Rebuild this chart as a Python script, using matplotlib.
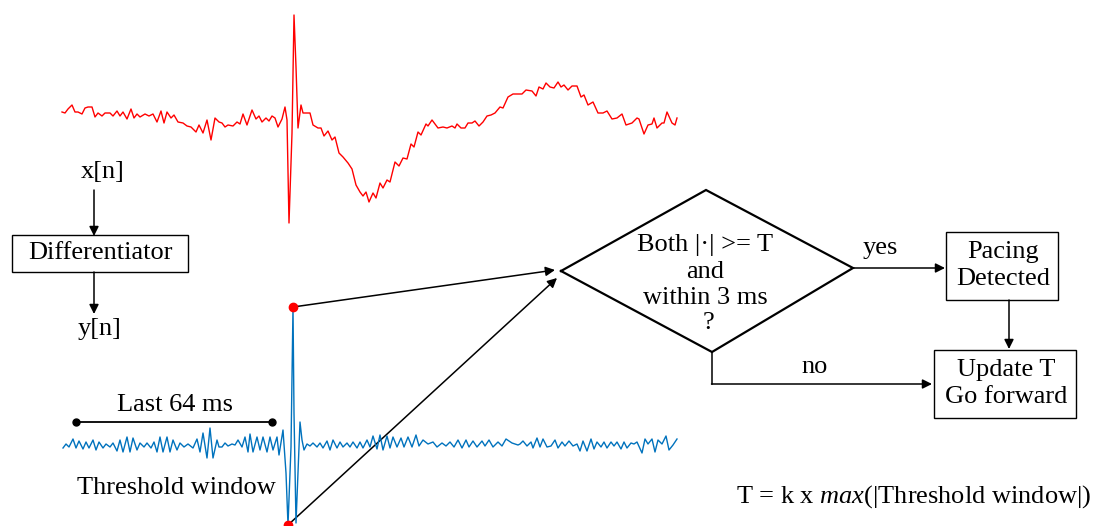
import matplotlib.pyplot as plt

plt.rcParams['font.family'] = ['Liberation Serif', 'DejaVu Serif']
plt.rcParams['mathtext.fontset'] = 'custom'
plt.rcParams['mathtext.rm'] = 'Liberation Serif'
plt.rcParams['mathtext.it'] = 'Liberation Serif:italic'

# raw ECG x[n]: sample index and amplitude
x_t = [0, 3, 6, 10, 13, 16, 20, 23, 26, 30, 33, 36, 40, 43, 48, 51, 55, 58, 61, 65,
       69, 72, 75, 78, 83, 87, 91, 95, 99, 102, 105, 109, 112, 116, 121, 125, 129, 134, 137, 141,
       145, 149, 153, 157, 160, 163, 166, 171, 175, 178, 181, 185, 190, 194, 197, 200, 204, 207, 210, 213,
       216, 220, 223, 225, 227, 230, 232, 234, 236, 239, 241, 248, 251, 256, 259, 262, 266, 270, 273, 277,
       281, 286, 290, 294, 298, 301, 304, 307, 311, 314, 318, 321, 325, 328, 333, 337, 341, 345, 349, 352,
       356, 359, 364, 366, 370, 376, 381, 385, 390, 393, 395, 399, 403, 406, 410, 413, 417, 421, 425, 429,
       433, 438, 441, 446, 451, 460, 464, 470, 474, 477, 481, 484, 488, 492, 496, 499, 502, 506, 510, 515,
       519, 522, 526, 531, 536, 541, 545, 550, 555, 560, 564, 570, 575, 577, 582, 586, 590, 592, 595, 600,
       602, 605, 610, 613, 615]
x_v = [-2, -3, 1, 5, -2, -2, -4, 2, 3, 3, -7, -3, -6, -3, -3, -6, -1, -6, -2, -9,
       1, -8, -4, -7, -4, -6, -4, -12, -1, -13, -2, -8, -5, -12, -13, -16, -17, -22, -15, -23,
       -10, -30, -8, -12, -13, -17, -15, -16, -12, -14, -4, -15, 0, -9, -6, -12, -8, -11, -6, -8,
       -17, -9, 3, -10, -113, -23, 95, 43, -18, 5, -3, -3, -15, -18, -18, -26, -21, -30, -27, -43,
       -47, -53, -59, -75, -82, -86, -82, -92, -83, -88, -73, -78, -70, -72, -52, -56, -48, -49, -34, -37,
       -22, -25, -14, -16, -10, -18, -17, -18, -16, -18, -14, -18, -18, -13, -13, -11, -16, -12, -6, -5,
       -3, 3, 2, 13, 16, 16, 20, 19, 14, 23, 21, 27, 23, 22, 28, 23, 25, 20, 24, 24,
       13, 15, 5, 8, -3, -3, -1, -9, -8, -4, -15, -13, -8, -9, -24, -15, -14, -8, -18, -13,
       -13, -2, -13, -15, -8]

# differentiated y[n]
y_t = [1, 4, 7, 11, 14, 17, 21, 24, 27, 31, 34, 37, 41, 44, 48, 51, 55, 58, 61, 65,
       68, 71, 75, 78, 82, 85, 89, 92, 95, 98, 101, 105, 108, 111, 115, 118, 122, 126, 131, 135,
       138, 141, 145, 148, 151, 155, 157, 160, 163, 166, 170, 173, 176, 180, 183, 186, 188, 191, 195, 198,
       201, 205, 208, 211, 215, 217, 221, 224, 226, 229, 231, 232, 234, 236, 238, 240, 242, 245, 248, 251,
       255, 258, 261, 265, 268, 271, 275, 278, 281, 285, 288, 291, 295, 298, 301, 305, 308, 311, 315, 318,
       321, 325, 328, 331, 335, 339, 342, 346, 350, 354, 357, 361, 366, 371, 375, 380, 384, 388, 392, 396,
       400, 404, 407, 411, 415, 420, 423, 427, 431, 436, 440, 444, 450, 456, 458, 461, 465, 469, 471, 475,
       478, 481, 485, 489, 493, 496, 500, 503, 507, 511, 515, 518, 521, 525, 529, 532, 535, 539, 542, 545,
       549, 552, 555, 559, 562, 565, 569, 572, 575, 580, 583, 586, 590, 593, 596, 600, 604, 607, 611, 615]
y_v = [-4, 0, -3, 5, -4, 3, -5, 2, -4, 4, -6, 2, -4, 0, -3, 1, -7, 4, -8, 7,
       -8, 6, -6, 1, -3, 1, -4, 2, -8, 7, -8, 7, -8, 4, -6, 1, -3, 0, -4, 5,
       -8, 11, -14, 16, -14, 4, -3, -3, 1, -2, 0, -1, 4, -3, 7, -8, 10, -8, 7, -6,
       7, -8, 7, -6, 7, -11, 14, -29, -81, -3, 137, 31, -79, -29, 22, 4, -6, 0, -2, 1,
       -3, 1, -4, 3, -6, 4, -4, 2, -3, 1, -3, 2, -4, 2, -4, 4, -3, 8, -5, 9,
       -6, 8, -4, 7, -3, 6, -3, 7, -3, 9, -2, 4, 0, 2, -3, 1, -2, 2, -3, 4,
       -4, 4, -3, 3, -3, 3, -2, 4, -3, 2, -2, 5, 1, -1, 0, 3, -2, 2, -4, 6,
       -3, 5, -3, -2, 4, -4, 2, -2, 3, -2, 0, -7, 3, -7, 5, -5, 2, -3, 2, -4,
       2, -2, 2, -5, 2, -4, 1, 0, 2, -9, 5, 0, 5, -8, 4, 0, 8, -6, -1, 5]

window = [14, 210]   # last 64 ms, in samples

W, H = 1094, 526
fig = plt.figure(figsize=(W / 100, H / 100), dpi=100)

# flowchart layer in pixel coordinates
ax = fig.add_axes([0, 0, 1, 1])
ax.set_xlim(0, W)
ax.set_ylim(H, 0)
ax.axis('off')

ax_x = fig.add_axes([62 / W, 1 - 230 / H, 616 / W, 220 / H])
ax_x.set_xlim(0, 616)
ax_x.set_ylim(-120, 100)
ax_x.axis('off')
ax_x.plot(x_t, x_v, color='#ff0000', lw=1.0, clip_on=False)

ax_y = fig.add_axes([62 / W, 0, 616 / W, 226 / H])
ax_y.set_xlim(0, 616)
ax_y.set_ylim(-82, 144)
ax_y.axis('off')
ax_y.plot(y_t, y_v, color='#0072BD', lw=1.0, clip_on=False)

i_max = y_v.index(max(y_v))
i_min = y_v.index(min(y_v))
ax_y.plot([y_t[i_max], y_t[i_min]], [y_v[i_max], y_v[i_min]], 'o', color='#ff0000',
          ms=6, clip_on=False, zorder=5)
ax_y.plot(window, [22, 22], '-o', color='black', lw=1.3, ms=5, clip_on=False)

fs = 19
arrow = dict(arrowstyle='-|>', color='black', lw=1.1, shrinkA=0, shrinkB=0, mutation_scale=14)

ax.text(103, 172, 'x[n]', fontsize=fs, ha='center', va='center')
ax.annotate('', xy=(94, 236), xytext=(94, 190), arrowprops=arrow)
ax.add_patch(plt.Rectangle((12, 235), 176, 37, fill=False, lw=1.0))
ax.text(100, 253, 'Differentiator', fontsize=fs, ha='center', va='center')
ax.annotate('', xy=(94, 314), xytext=(94, 272), arrowprops=arrow)
ax.text(100, 329, 'y[n]', fontsize=fs, ha='center', va='center')

ax.text(175, 405, 'Last 64 ms', fontsize=fs, ha='center', va='center')
ax.text(176, 488, 'Threshold window', fontsize=fs, ha='center', va='center')

# links from the two peaks to the decision
ax.annotate('', xy=(555, 270), xycoords='data', xytext=(y_t[i_max], y_v[i_max]),
            textcoords=ax_y.transData, arrowprops=arrow)
ax.annotate('', xy=(557, 278), xycoords='data', xytext=(y_t[i_min], y_v[i_min]),
            textcoords=ax_y.transData, arrowprops=arrow)

dx = [561, 706, 853, 712, 561]
dy = [271, 190, 268, 352, 271]
ax.plot(dx, dy, color='black', lw=1.6, solid_joinstyle='miter')
ax.text(705, 245, 'Both |·| >= T', fontsize=fs, ha='center', va='center')
ax.text(705, 272, 'and', fontsize=fs, ha='center', va='center')
ax.text(705, 298, 'within 3 ms', fontsize=fs, ha='center', va='center')
ax.text(709, 323, '?', fontsize=fs, ha='center', va='center')

ax.annotate('', xy=(945, 268), xytext=(853, 268), arrowprops=arrow)
ax.text(880, 248, 'yes', fontsize=fs, ha='center', va='center')
ax.add_patch(plt.Rectangle((946, 232), 112, 68, fill=False, lw=1.0))
ax.text(1003, 252, 'Pacing', fontsize=fs, ha='center', va='center')
ax.text(1003, 279, 'Detected', fontsize=fs, ha='center', va='center')
ax.annotate('', xy=(1009, 349), xytext=(1009, 300), arrowprops=arrow)

ax.plot([712, 712], [352, 384], color='black', lw=1.1)
ax.annotate('', xy=(932, 384), xytext=(711.5, 384), arrowprops=arrow)
ax.text(815, 367, 'no', fontsize=fs, ha='center', va='center')
ax.add_patch(plt.Rectangle((934, 350), 142, 68, fill=False, lw=1.0))
ax.text(1006, 370, 'Update T', fontsize=fs, ha='center', va='center')
ax.text(1006, 397, 'Go forward', fontsize=fs, ha='center', va='center')

ax.text(1091, 497, r'T = k x $\mathit{max}$(|Threshold window|)', fontsize=fs,
        ha='right', va='center')

fig.savefig('out.png', dpi=100)
